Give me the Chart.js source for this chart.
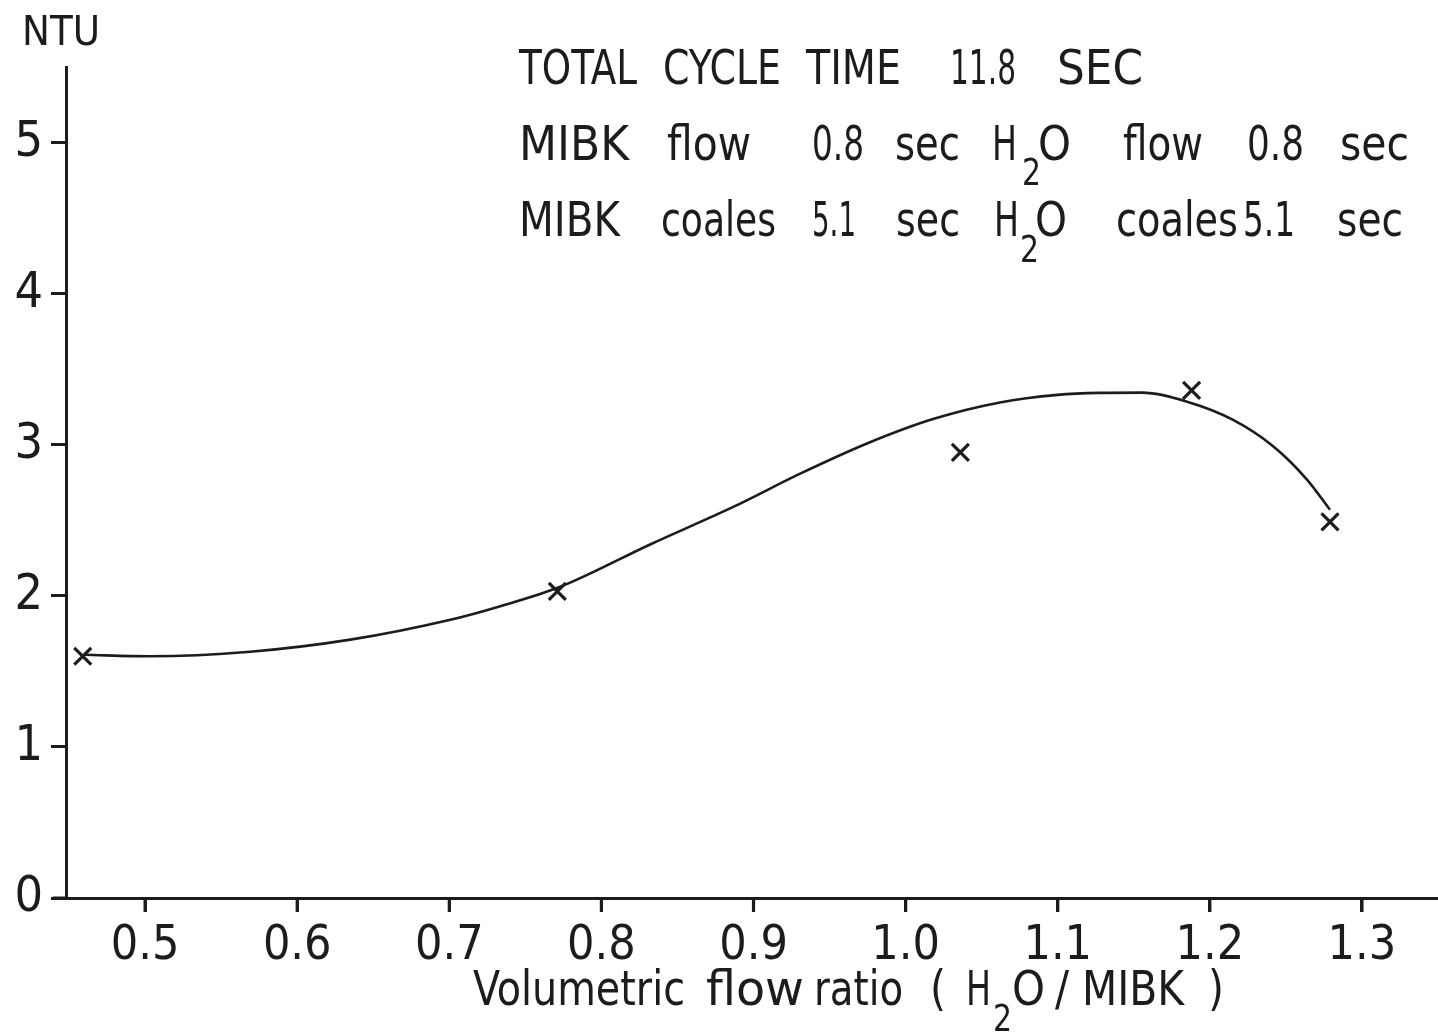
<!DOCTYPE html>
<html>
<head>
<meta charset="utf-8">
<script src="https://cdn.jsdelivr.net/npm/chart.js@4.4.1/dist/chart.umd.min.js"></script>
<style>
html,body{margin:0;padding:0;background:#fff;}
#wrap{width:1438px;height:1036px;position:relative;}
</style>
</head>
<body>
<div id="wrap"><canvas id="c"></canvas></div>
<script>
// ---- data ----
const measuredX = [0.459, 0.771, 1.036, 1.188, 1.279];
const measuredY = [1.60, 2.03, 2.95, 3.36, 2.49];
const curveX = [0.460, 0.503, 0.569, 0.635, 0.700, 0.733, 0.773, 0.832, 0.887, 0.931, 0.975, 1.018, 1.062, 1.100, 1.128, 1.155, 1.185, 1.215, 1.242, 1.264, 1.279];
const curveY = [1.61, 1.60, 1.63, 1.71, 1.84, 1.93, 2.06, 2.34, 2.59, 2.81, 3.01, 3.17, 3.28, 3.33, 3.343, 3.345, 3.285, 3.166, 2.987, 2.768, 2.57];
const xTicks = [0.5, 0.6, 0.7, 0.8, 0.9, 1.0, 1.1, 1.2, 1.3];
const yTicks = [0, 1, 2, 3, 4, 5];
const xTickLabels = ['0.5','0.6','0.7','0.8','0.9','1.0','1.1','1.2','1.3'];

const INK = '#1c1c1c';
const FONT = '"DejaVu Sans Condensed", "Liberation Sans Narrow", "DejaVu Sans", sans-serif';

// text annotations: [text, left x, right x, baseline, font size]
const noteWords = [
  ['TOTAL', 519, 637, 84, 48], ['CYCLE', 663, 781, 84, 48], ['TIME', 806, 901, 84, 48],
  ['11.8', 950, 1016, 84, 48], ['SEC', 1057, 1143, 84, 48],
  ['MIBK', 519, 629, 160, 48], ['flow', 667, 751, 160, 48], ['0.8', 812, 864, 160, 48], ['sec', 895, 960, 160, 48],
  ['H', 992, 1017, 160, 48], ['2', 1022, 1041, 185, 38], ['O', 1038, 1071, 160, 48],
  ['flow', 1123, 1203, 160, 48], ['0.8', 1247, 1304, 160, 48], ['sec', 1340, 1409, 160, 48],
  ['MIBK', 519, 620, 236, 48], ['coales', 661, 776, 236, 48], ['5.1', 812, 856, 236, 48], ['sec', 896, 960, 236, 48],
  ['H', 994, 1019, 236, 48], ['2', 1020, 1039, 262, 38], ['O', 1035, 1067, 236, 48],
  ['coales', 1116, 1238, 236, 48], ['5.1', 1243, 1295, 236, 48], ['sec', 1337, 1403, 236, 48],
  ['NTU', 22, 100, 45, 41],
  ['Volumetric', 473, 685, 1005, 48], ['flow', 706, 804, 1005, 48], ['ratio', 814, 903, 1005, 48],
  ['(', 930, 946, 1005, 48], ['H', 966, 991, 1005, 48], ['2', 993, 1012, 1031, 38], ['O', 1012, 1045, 1005, 48],
  ['/', 1055, 1069, 1005, 48], ['MIBK', 1082, 1184, 1005, 48], [')', 1208, 1224, 1005, 48]
];

const decor = {
  id: 'decor',
  afterDraw(chart) {
    const ctx = chart.ctx;
    const ca = chart.chartArea;
    const xs = chart.scales.x;
    ctx.save();
    ctx.setTransform(1, 0, 0, 1, 0, 0);
    ctx.globalAlpha = 1;
    ctx.globalCompositeOperation = 'source-over';
    ctx.fillStyle = INK;
    // x-axis line stub extending left of the y-axis
    ctx.fillRect(ca.left - 13, ca.bottom - 1.5, 14, 3);
    // x tick marks pointing down
    xTicks.forEach(v => {
      const px = xs.getPixelForValue(v);
      ctx.fillRect(px - 1.6, ca.bottom, 3.2, 14);
    });
    ctx.textBaseline = 'alphabetic';
    ctx.textAlign = 'left';
    noteWords.forEach(w => {
      ctx.font = w[4] + 'px ' + FONT;
      const natural = ctx.measureText(w[0]).width;
      const sx = (w[2] - w[1]) / natural;
      ctx.save();
      ctx.translate(w[1], w[3]);
      ctx.scale(sx, 1);
      ctx.fillText(w[0], 0, 0);
      ctx.restore();
    });
    ctx.restore();
  }
};

new Chart(document.getElementById('c'), {
  type: 'scatter',
  data: {
    datasets: [
      {
        label: 'curve',
        type: 'line',
        data: curveX.map((x, i) => ({x, y: curveY[i]})),
        borderColor: INK,
        borderWidth: 2.6,
        pointRadius: 0,
        cubicInterpolationMode: 'monotone',
        fill: false
      },
      {
        label: 'measured',
        data: measuredX.map((x, i) => ({x, y: measuredY[i]})),
        pointStyle: 'crossRot',
        pointRadius: 12,
        borderColor: INK,
        borderWidth: 3.2,
        backgroundColor: INK
      }
    ]
  },
  options: {
    responsive: true,
    maintainAspectRatio: false,
    animation: false,
    events: [],
    layout: { autoPadding: false, padding: { top: 67, right: 0, left: 0, bottom: 0 } },
    plugins: { legend: { display: false }, tooltip: { enabled: false }, title: { display: false } },
    scales: {
      x: {
        type: 'linear',
        min: 0.448,
        max: 1.35,
        afterBuildTicks: s => { s.ticks = xTicks.map(v => ({value: v})); },
        afterFit: s => { s.height = 138; },
        border: { display: true, color: INK, width: 3 },
        grid: { drawOnChartArea: false, drawTicks: true, tickLength: 14, color: INK, lineWidth: 3 },
        ticks: {
          color: INK,
          padding: 6,
          font: { family: FONT, size: 48 },
          callback: (v, i) => xTickLabels[i]
        }
      },
      y: {
        type: 'linear',
        min: 0,
        max: 5.5,
        afterBuildTicks: s => { s.ticks = yTicks.map(v => ({value: v})); },
        afterFit: s => { s.width = 66; },
        border: { display: true, color: INK, width: 3 },
        grid: { drawOnChartArea: false, drawTicks: true, tickLength: 15, color: INK, lineWidth: 3 },
        ticks: {
          color: INK,
          padding: 8,
          font: { family: FONT, size: 50 },
          callback: v => String(v)
        }
      }
    }
  },
  plugins: [decor]
});
</script>
</body>
</html>
